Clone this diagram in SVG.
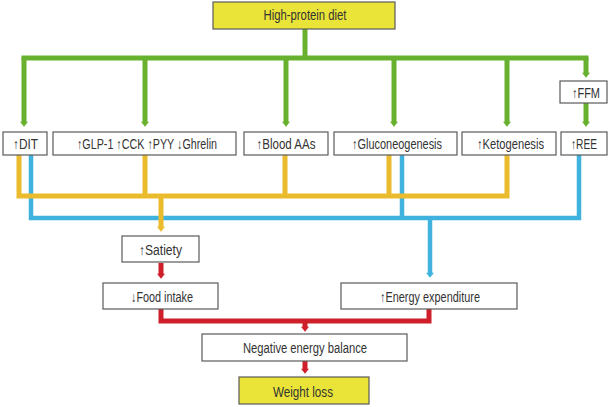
<svg xmlns="http://www.w3.org/2000/svg" width="610" height="407" viewBox="0 0 610 407">
<style>
.box{fill:#ffffff;stroke:#5a5a5a;stroke-width:1.2}
.ybox{fill:#e9e437;stroke:#5a5a5a;stroke-width:1.2}
text{font-family:"Liberation Sans",Arial,sans-serif;font-size:14px;fill:#333333;text-anchor:middle}
.g{stroke:#67b12f;stroke-width:5;fill:none}
.o{stroke:#ebbb2e;stroke-width:5;fill:none}
.b{stroke:#3fb3de;stroke-width:4.5;fill:none}
.r{stroke:#cf1f2a;stroke-width:5;fill:none}
</style>
<defs>
<marker id="ag" markerUnits="userSpaceOnUse" markerWidth="11" markerHeight="8" viewBox="0 0 8 11" refX="0.5" refY="5.5" orient="auto"><path d="M0,0 L7,5.5 L0,11 z" fill="#67b12f"/></marker>
<marker id="ao" markerUnits="userSpaceOnUse" markerWidth="11" markerHeight="8" viewBox="0 0 8 11" refX="0.5" refY="5.5" orient="auto"><path d="M0,0 L7,5.5 L0,11 z" fill="#ebbb2e"/></marker>
<marker id="ab" markerUnits="userSpaceOnUse" markerWidth="11" markerHeight="8" viewBox="0 0 8 11" refX="0.5" refY="5.5" orient="auto"><path d="M0,0 L7,5.5 L0,11 z" fill="#3fb3de"/></marker>
<marker id="ar" markerUnits="userSpaceOnUse" markerWidth="11" markerHeight="8" viewBox="0 0 8 11" refX="0.5" refY="5.5" orient="auto"><path d="M0,0 L7,5.5 L0,11 z" fill="#cf1f2a"/></marker>
</defs>
<g id="connectors">
<path class="g" d="M305,29 V58"/>
<path class="g" d="M21.5,58 H588.5"/>
<path class="g" d="M24,58 V122" marker-end="url(#ag)"/>
<path class="g" d="M145,58 V122" marker-end="url(#ag)"/>
<path class="g" d="M286,58 V122" marker-end="url(#ag)"/>
<path class="g" d="M394,58 V122" marker-end="url(#ag)"/>
<path class="g" d="M507,58 V122" marker-end="url(#ag)"/>
<path class="g" d="M586,58 V73" marker-end="url(#ag)"/>
<path class="g" d="M586,103 V122" marker-end="url(#ag)"/>
<path class="b" d="M31,155 V218 H579 V155"/>
<path class="b" d="M402,155 V218"/>
<path class="b" d="M430,218 V273" marker-end="url(#ab)"/>
<path class="o" d="M19,155 V196 H507 V155"/>
<path class="o" d="M145,155 V196"/>
<path class="o" d="M285,155 V196"/>
<path class="o" d="M389,155 V196"/>
<path class="o" d="M161,196 V227" marker-end="url(#ao)"/>
<path class="r" d="M161,263 V274" marker-end="url(#ar)"/>
<path class="r" d="M161,309 V321 H429 V309"/>
<path class="r" d="M305,321 V327" marker-end="url(#ar)"/>
<path class="r" d="M305,361 V369" marker-end="url(#ar)"/>
</g>
<g id="n-diet"><rect class="ybox" x="213" y="2" width="182" height="27"/><text x="305" y="20" textLength="83" lengthAdjust="spacingAndGlyphs">High-protein diet</text></g>
<g id="n-dit"><rect class="box" x="3" y="132" width="44" height="23"/><text x="25.5" y="149" textLength="25" lengthAdjust="spacingAndGlyphs">↑DIT</text></g>
<g id="n-glp"><rect class="box" x="53" y="132" width="183" height="23"/><text x="147" y="149" textLength="140" lengthAdjust="spacingAndGlyphs">↑GLP-1 ↑CCK ↑PYY ↓Ghrelin</text></g>
<g id="n-aas"><rect class="box" x="244" y="132" width="84" height="23"/><text x="286" y="149" textLength="59" lengthAdjust="spacingAndGlyphs">↑Blood AAs</text></g>
<g id="n-gluco"><rect class="box" x="334" y="132" width="123" height="23"/><text x="397" y="149" textLength="90" lengthAdjust="spacingAndGlyphs">↑Gluconeogenesis</text></g>
<g id="n-keto"><rect class="box" x="462" y="132" width="94" height="23"/><text x="510.5" y="149" textLength="67" lengthAdjust="spacingAndGlyphs">↑Ketogenesis</text></g>
<g id="n-ree"><rect class="box" x="561" y="132" width="46" height="23"/><text x="584" y="149" textLength="26" lengthAdjust="spacingAndGlyphs">↑REE</text></g>
<g id="n-ffm"><rect class="box" x="560" y="81" width="47" height="22"/><text x="586" y="98" textLength="28" lengthAdjust="spacingAndGlyphs">↑FFM</text></g>
<g id="n-satiety"><rect class="box" x="122" y="236" width="77" height="26"/><text x="160.5" y="254.5" textLength="43" lengthAdjust="spacingAndGlyphs">↑Satiety</text></g>
<g id="n-food"><rect class="box" x="103" y="283" width="115" height="26"/><text x="162" y="302" textLength="62" lengthAdjust="spacingAndGlyphs">↓Food intake</text></g>
<g id="n-ee"><rect class="box" x="341" y="283" width="176" height="26"/><text x="430" y="302" textLength="100" lengthAdjust="spacingAndGlyphs">↑Energy expenditure</text></g>
<g id="n-neb"><rect class="box" x="202" y="334" width="205" height="27"/><text x="305" y="353" textLength="124" lengthAdjust="spacingAndGlyphs">Negative energy balance</text></g>
<g id="n-wl"><rect class="ybox" x="239" y="377" width="130" height="27"/><text x="303" y="396.5" textLength="60" lengthAdjust="spacingAndGlyphs">Weight loss</text></g>
</svg>
